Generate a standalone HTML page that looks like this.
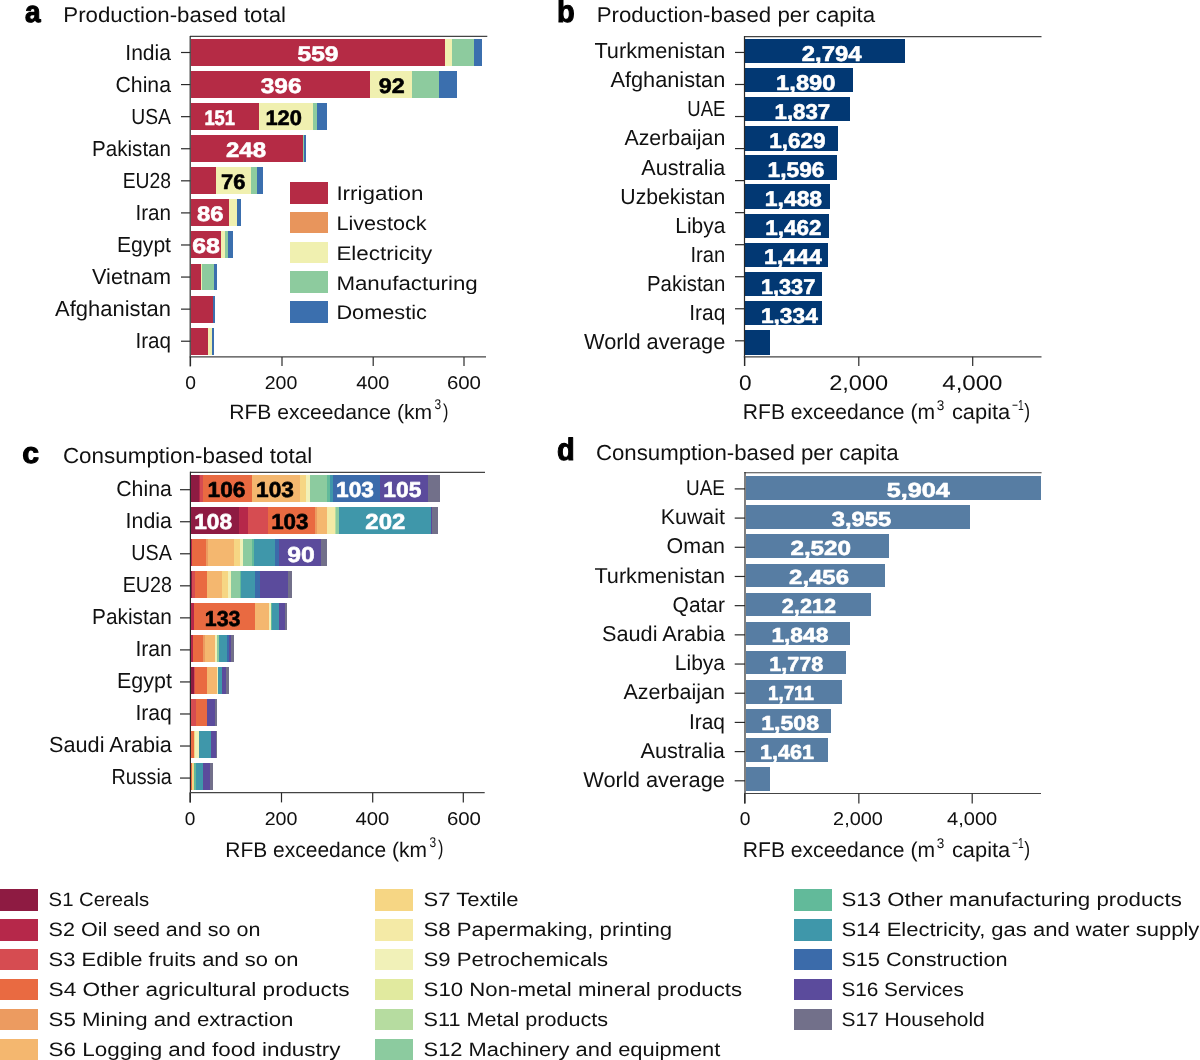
<!DOCTYPE html>
<html><head><meta charset="utf-8"><style>
html,body{margin:0;padding:0;background:#fff;}
body{width:1200px;height:1060px;overflow:hidden;}
svg{display:block;font-family:"Liberation Sans",sans-serif;will-change:transform;}
</style></head><body>
<svg width="1200" height="1060" viewBox="0 0 1200 1060" shape-rendering="crispEdges">
<rect x="0" y="0" width="1200" height="1060" fill="#fff"/>
<g text-rendering="geometricPrecision">
<text x="25.00" y="22.20" font-size="30.11" font-weight="bold" stroke="#000" stroke-width="1.1" stroke-linejoin="round" fill="#000" textLength="15.61" lengthAdjust="spacingAndGlyphs">a</text>
<text x="63.30" y="22.20" font-size="21.37" fill="#111" textLength="222.71" lengthAdjust="spacingAndGlyphs">Production-based total</text>
<rect x="190.90" y="39.00" width="254.10" height="26.90" fill="#B52B45"/>
<rect x="445.00" y="39.00" width="7.00" height="26.90" fill="#F0F0B0"/>
<rect x="452.00" y="39.00" width="22.30" height="26.90" fill="#8DCB9E"/>
<rect x="474.30" y="39.00" width="7.30" height="26.90" fill="#3B6FAE"/>
<line x1="181.00" y1="52.50" x2="190.30" y2="52.50" stroke="#2a2a2a" stroke-width="1.2" shape-rendering="geometricPrecision"/>
<text x="125.30" y="59.50" font-size="21.80" fill="#111" textLength="45.69" lengthAdjust="spacingAndGlyphs">India</text>
<text x="297.50" y="60.95" font-size="21.06" font-weight="bold" stroke="#fff" stroke-width="0.6" stroke-linejoin="round" fill="#fff" textLength="41.01" lengthAdjust="spacingAndGlyphs">559</text>
<rect x="190.90" y="71.08" width="179.40" height="26.90" fill="#B52B45"/>
<rect x="370.30" y="71.08" width="42.10" height="26.90" fill="#F0F0B0"/>
<rect x="412.40" y="71.08" width="26.60" height="26.90" fill="#8DCB9E"/>
<rect x="439.00" y="71.08" width="18.00" height="26.90" fill="#3B6FAE"/>
<line x1="181.00" y1="84.58" x2="190.30" y2="84.58" stroke="#2a2a2a" stroke-width="1.2" shape-rendering="geometricPrecision"/>
<text x="115.50" y="91.58" font-size="21.80" fill="#111" textLength="55.47" lengthAdjust="spacingAndGlyphs">China</text>
<text x="260.70" y="93.03" font-size="21.06" font-weight="bold" stroke="#fff" stroke-width="0.6" stroke-linejoin="round" fill="#fff" textLength="40.81" lengthAdjust="spacingAndGlyphs">396</text>
<text x="378.80" y="93.03" font-size="21.06" font-weight="bold" stroke="#000" stroke-width="0.6" stroke-linejoin="round" fill="#000" textLength="25.91" lengthAdjust="spacingAndGlyphs">92</text>
<rect x="190.90" y="103.16" width="67.60" height="26.90" fill="#B52B45"/>
<rect x="258.50" y="103.16" width="54.50" height="26.90" fill="#F0F0B0"/>
<rect x="313.00" y="103.16" width="4.00" height="26.90" fill="#8DCB9E"/>
<rect x="317.00" y="103.16" width="10.00" height="26.90" fill="#3B6FAE"/>
<line x1="181.00" y1="116.66" x2="190.30" y2="116.66" stroke="#2a2a2a" stroke-width="1.2" shape-rendering="geometricPrecision"/>
<text x="131.30" y="123.66" font-size="21.80" fill="#111" textLength="39.70" lengthAdjust="spacingAndGlyphs">USA</text>
<text x="204.40" y="125.11" font-size="21.06" font-weight="bold" stroke="#fff" stroke-width="0.6" stroke-linejoin="round" fill="#fff" textLength="30.61" lengthAdjust="spacingAndGlyphs">151</text>
<text x="265.40" y="125.11" font-size="21.06" font-weight="bold" stroke="#000" stroke-width="0.6" stroke-linejoin="round" fill="#000" textLength="36.51" lengthAdjust="spacingAndGlyphs">120</text>
<rect x="190.90" y="135.24" width="112.10" height="26.90" fill="#B52B45"/>
<rect x="303.00" y="135.24" width="0.80" height="26.90" fill="#8DCB9E"/>
<rect x="303.80" y="135.24" width="2.10" height="26.90" fill="#3B6FAE"/>
<line x1="181.00" y1="148.74" x2="190.30" y2="148.74" stroke="#2a2a2a" stroke-width="1.2" shape-rendering="geometricPrecision"/>
<text x="92.10" y="155.74" font-size="21.80" fill="#111" textLength="78.91" lengthAdjust="spacingAndGlyphs">Pakistan</text>
<text x="226.00" y="157.19" font-size="21.06" font-weight="bold" stroke="#fff" stroke-width="0.6" stroke-linejoin="round" fill="#fff" textLength="40.01" lengthAdjust="spacingAndGlyphs">248</text>
<rect x="190.90" y="167.32" width="25.35" height="26.90" fill="#B52B45"/>
<rect x="216.25" y="167.32" width="34.75" height="26.90" fill="#F0F0B0"/>
<rect x="251.00" y="167.32" width="6.00" height="26.90" fill="#8DCB9E"/>
<rect x="257.00" y="167.32" width="5.90" height="26.90" fill="#3B6FAE"/>
<line x1="181.00" y1="180.82" x2="190.30" y2="180.82" stroke="#2a2a2a" stroke-width="1.2" shape-rendering="geometricPrecision"/>
<text x="122.70" y="187.82" font-size="21.80" fill="#111" textLength="48.31" lengthAdjust="spacingAndGlyphs">EU28</text>
<text x="221.00" y="189.27" font-size="21.06" font-weight="bold" stroke="#000" stroke-width="0.6" stroke-linejoin="round" fill="#000" textLength="24.41" lengthAdjust="spacingAndGlyphs">76</text>
<rect x="190.90" y="199.40" width="38.20" height="26.90" fill="#B52B45"/>
<rect x="229.10" y="199.40" width="7.90" height="26.90" fill="#F0F0B0"/>
<rect x="237.00" y="199.40" width="3.75" height="26.90" fill="#3B6FAE"/>
<line x1="181.00" y1="212.90" x2="190.30" y2="212.90" stroke="#2a2a2a" stroke-width="1.2" shape-rendering="geometricPrecision"/>
<text x="135.40" y="219.90" font-size="21.80" fill="#111" textLength="35.60" lengthAdjust="spacingAndGlyphs">Iran</text>
<text x="197.00" y="221.35" font-size="21.06" font-weight="bold" stroke="#fff" stroke-width="0.6" stroke-linejoin="round" fill="#fff" textLength="26.51" lengthAdjust="spacingAndGlyphs">86</text>
<rect x="190.90" y="231.48" width="30.10" height="26.90" fill="#B52B45"/>
<rect x="221.00" y="231.48" width="4.00" height="26.90" fill="#F0F0B0"/>
<rect x="225.00" y="231.48" width="3.25" height="26.90" fill="#8DCB9E"/>
<rect x="228.25" y="231.48" width="4.65" height="26.90" fill="#3B6FAE"/>
<line x1="181.00" y1="244.98" x2="190.30" y2="244.98" stroke="#2a2a2a" stroke-width="1.2" shape-rendering="geometricPrecision"/>
<text x="117.00" y="251.98" font-size="21.80" fill="#111" textLength="54.00" lengthAdjust="spacingAndGlyphs">Egypt</text>
<text x="192.25" y="253.43" font-size="21.06" font-weight="bold" stroke="#fff" stroke-width="0.6" stroke-linejoin="round" fill="#fff" textLength="27.76" lengthAdjust="spacingAndGlyphs">68</text>
<rect x="190.90" y="263.56" width="10.10" height="26.90" fill="#B52B45"/>
<rect x="201.00" y="263.56" width="1.10" height="26.90" fill="#F0F0B0"/>
<rect x="202.10" y="263.56" width="11.90" height="26.90" fill="#8DCB9E"/>
<rect x="214.00" y="263.56" width="2.90" height="26.90" fill="#3B6FAE"/>
<line x1="181.00" y1="277.06" x2="190.30" y2="277.06" stroke="#2a2a2a" stroke-width="1.2" shape-rendering="geometricPrecision"/>
<text x="92.10" y="284.06" font-size="21.80" fill="#111" textLength="78.91" lengthAdjust="spacingAndGlyphs">Vietnam</text>
<rect x="190.90" y="295.64" width="22.30" height="26.90" fill="#B52B45"/>
<rect x="213.20" y="295.64" width="1.50" height="26.90" fill="#3B6FAE"/>
<line x1="181.00" y1="309.14" x2="190.30" y2="309.14" stroke="#2a2a2a" stroke-width="1.2" shape-rendering="geometricPrecision"/>
<text x="55.10" y="316.14" font-size="21.80" fill="#111" textLength="115.89" lengthAdjust="spacingAndGlyphs">Afghanistan</text>
<rect x="190.90" y="327.72" width="17.10" height="26.90" fill="#B52B45"/>
<rect x="208.00" y="327.72" width="4.00" height="26.90" fill="#F0F0B0"/>
<rect x="212.00" y="327.72" width="2.20" height="26.90" fill="#3B6FAE"/>
<line x1="181.00" y1="341.22" x2="190.30" y2="341.22" stroke="#2a2a2a" stroke-width="1.2" shape-rendering="geometricPrecision"/>
<text x="135.40" y="348.22" font-size="21.80" fill="#111" textLength="35.60" lengthAdjust="spacingAndGlyphs">Iraq</text>
<line x1="190.00" y1="36.40" x2="487.30" y2="36.40" stroke="#444" stroke-width="1.1" shape-rendering="geometricPrecision"/>
<line x1="190.20" y1="36.00" x2="190.20" y2="366.50" stroke="#2a2a2a" stroke-width="1.2" shape-rendering="geometricPrecision"/>
<line x1="189.60" y1="356.85" x2="486.00" y2="356.85" stroke="#444" stroke-width="1.2" shape-rendering="geometricPrecision"/>
<line x1="190.50" y1="357.00" x2="190.50" y2="366.00" stroke="#2a2a2a" stroke-width="1.2" shape-rendering="geometricPrecision"/>
<line x1="282.00" y1="357.00" x2="282.00" y2="366.00" stroke="#2a2a2a" stroke-width="1.2" shape-rendering="geometricPrecision"/>
<line x1="373.20" y1="357.00" x2="373.20" y2="366.00" stroke="#2a2a2a" stroke-width="1.2" shape-rendering="geometricPrecision"/>
<line x1="464.00" y1="357.00" x2="464.00" y2="366.00" stroke="#2a2a2a" stroke-width="1.2" shape-rendering="geometricPrecision"/>
<text x="185.30" y="389.00" font-size="18.48" fill="#111" textLength="10.70" lengthAdjust="spacingAndGlyphs">0</text>
<text x="264.70" y="389.00" font-size="18.48" fill="#111" textLength="32.61" lengthAdjust="spacingAndGlyphs">200</text>
<text x="356.25" y="389.00" font-size="18.48" fill="#111" textLength="33.16" lengthAdjust="spacingAndGlyphs">400</text>
<text x="446.90" y="389.00" font-size="18.48" fill="#111" textLength="34.11" lengthAdjust="spacingAndGlyphs">600</text>
<text x="229.20" y="418.75" font-size="20.64" fill="#111" textLength="202.90" lengthAdjust="spacingAndGlyphs">RFB exceedance (km</text>
<text x="434.60" y="409.46" font-size="14.12" fill="#111" textLength="6.65" lengthAdjust="spacingAndGlyphs">3</text>
<text x="442.90" y="417.52" font-size="20.17" fill="#111" textLength="5.40" lengthAdjust="spacingAndGlyphs">)</text>
<rect x="289.80" y="182.00" width="38.00" height="21.50" fill="#B52B45"/>
<text x="336.40" y="200.00" font-size="19.77" fill="#111" textLength="87.09" lengthAdjust="spacingAndGlyphs">Irrigation</text>
<rect x="289.80" y="211.80" width="38.00" height="21.50" fill="#E8955C"/>
<text x="336.40" y="229.85" font-size="19.77" fill="#111" textLength="90.27" lengthAdjust="spacingAndGlyphs">Livestock</text>
<rect x="289.80" y="241.60" width="38.00" height="21.50" fill="#F0F0B0"/>
<text x="336.40" y="259.70" font-size="19.77" fill="#111" textLength="95.91" lengthAdjust="spacingAndGlyphs">Electricity</text>
<rect x="289.80" y="271.40" width="38.00" height="21.50" fill="#8DCB9E"/>
<text x="336.40" y="289.55" font-size="19.77" fill="#111" textLength="141.35" lengthAdjust="spacingAndGlyphs">Manufacturing</text>
<rect x="289.80" y="301.20" width="38.00" height="21.50" fill="#3B6FAE"/>
<text x="336.40" y="319.40" font-size="19.77" fill="#111" textLength="90.59" lengthAdjust="spacingAndGlyphs">Domestic</text>
<text x="557.00" y="22.00" font-size="31.03" font-weight="bold" stroke="#000" stroke-width="1.1" stroke-linejoin="round" fill="#000" textLength="17.70" lengthAdjust="spacingAndGlyphs">b</text>
<text x="596.70" y="22.10" font-size="21.37" fill="#111" textLength="278.48" lengthAdjust="spacingAndGlyphs">Production-based per capita</text>
<rect x="745.20" y="38.80" width="159.60" height="24.40" fill="#023873"/>
<text x="594.40" y="58.00" font-size="21.80" fill="#111" textLength="130.89" lengthAdjust="spacingAndGlyphs">Turkmenistan</text>
<text x="801.80" y="60.50" font-size="21.35" font-weight="bold" stroke="#fff" stroke-width="0.6" stroke-linejoin="round" fill="#fff" textLength="59.66" lengthAdjust="spacingAndGlyphs">2,794</text>
<rect x="745.20" y="67.93" width="107.90" height="24.40" fill="#023873"/>
<text x="610.40" y="87.13" font-size="21.80" fill="#111" textLength="114.89" lengthAdjust="spacingAndGlyphs">Afghanistan</text>
<text x="776.10" y="89.63" font-size="21.35" font-weight="bold" stroke="#fff" stroke-width="0.6" stroke-linejoin="round" fill="#fff" textLength="59.41" lengthAdjust="spacingAndGlyphs">1,890</text>
<rect x="745.20" y="97.06" width="105.20" height="24.40" fill="#023873"/>
<text x="687.30" y="116.26" font-size="21.80" fill="#111" textLength="38.00" lengthAdjust="spacingAndGlyphs">UAE</text>
<text x="774.50" y="118.76" font-size="21.35" font-weight="bold" stroke="#fff" stroke-width="0.6" stroke-linejoin="round" fill="#fff" textLength="55.71" lengthAdjust="spacingAndGlyphs">1,837</text>
<rect x="745.20" y="126.19" width="93.00" height="24.40" fill="#023873"/>
<text x="624.40" y="145.39" font-size="21.80" fill="#111" textLength="100.90" lengthAdjust="spacingAndGlyphs">Azerbaijan</text>
<text x="769.20" y="147.89" font-size="21.35" font-weight="bold" stroke="#fff" stroke-width="0.6" stroke-linejoin="round" fill="#fff" textLength="56.31" lengthAdjust="spacingAndGlyphs">1,629</text>
<rect x="745.20" y="155.32" width="91.40" height="24.40" fill="#023873"/>
<text x="641.30" y="174.52" font-size="21.80" fill="#111" textLength="83.97" lengthAdjust="spacingAndGlyphs">Australia</text>
<text x="767.60" y="177.02" font-size="21.35" font-weight="bold" stroke="#fff" stroke-width="0.6" stroke-linejoin="round" fill="#fff" textLength="56.91" lengthAdjust="spacingAndGlyphs">1,596</text>
<rect x="745.20" y="184.45" width="85.10" height="24.40" fill="#023873"/>
<text x="620.30" y="203.65" font-size="21.80" fill="#111" textLength="105.00" lengthAdjust="spacingAndGlyphs">Uzbekistan</text>
<text x="764.80" y="206.15" font-size="21.35" font-weight="bold" stroke="#fff" stroke-width="0.6" stroke-linejoin="round" fill="#fff" textLength="57.31" lengthAdjust="spacingAndGlyphs">1,488</text>
<rect x="745.20" y="213.58" width="83.70" height="24.40" fill="#023873"/>
<text x="675.30" y="232.78" font-size="21.80" fill="#111" textLength="49.99" lengthAdjust="spacingAndGlyphs">Libya</text>
<text x="765.20" y="235.28" font-size="21.35" font-weight="bold" stroke="#fff" stroke-width="0.6" stroke-linejoin="round" fill="#fff" textLength="56.21" lengthAdjust="spacingAndGlyphs">1,462</text>
<rect x="745.20" y="242.71" width="82.50" height="24.40" fill="#023873"/>
<text x="690.50" y="261.91" font-size="21.80" fill="#111" textLength="34.80" lengthAdjust="spacingAndGlyphs">Iran</text>
<text x="764.10" y="264.41" font-size="21.35" font-weight="bold" stroke="#fff" stroke-width="0.6" stroke-linejoin="round" fill="#fff" textLength="57.71" lengthAdjust="spacingAndGlyphs">1,444</text>
<rect x="745.20" y="271.84" width="76.60" height="24.40" fill="#023873"/>
<text x="647.00" y="291.04" font-size="21.80" fill="#111" textLength="78.31" lengthAdjust="spacingAndGlyphs">Pakistan</text>
<text x="760.90" y="293.54" font-size="21.35" font-weight="bold" stroke="#fff" stroke-width="0.6" stroke-linejoin="round" fill="#fff" textLength="54.41" lengthAdjust="spacingAndGlyphs">1,337</text>
<rect x="745.20" y="300.97" width="76.60" height="24.40" fill="#023873"/>
<text x="689.30" y="320.17" font-size="21.80" fill="#111" textLength="36.00" lengthAdjust="spacingAndGlyphs">Iraq</text>
<text x="760.90" y="322.67" font-size="21.35" font-weight="bold" stroke="#fff" stroke-width="0.6" stroke-linejoin="round" fill="#fff" textLength="56.91" lengthAdjust="spacingAndGlyphs">1,334</text>
<rect x="745.20" y="330.10" width="24.90" height="24.40" fill="#023873"/>
<text x="584.10" y="349.30" font-size="21.80" fill="#111" textLength="141.20" lengthAdjust="spacingAndGlyphs">World average</text>
<line x1="735.00" y1="52.45" x2="744.50" y2="52.45" stroke="#2a2a2a" stroke-width="1.2" shape-rendering="geometricPrecision"/>
<line x1="735.00" y1="84.49" x2="744.50" y2="84.49" stroke="#2a2a2a" stroke-width="1.2" shape-rendering="geometricPrecision"/>
<line x1="735.00" y1="116.53" x2="744.50" y2="116.53" stroke="#2a2a2a" stroke-width="1.2" shape-rendering="geometricPrecision"/>
<line x1="735.00" y1="148.57" x2="744.50" y2="148.57" stroke="#2a2a2a" stroke-width="1.2" shape-rendering="geometricPrecision"/>
<line x1="735.00" y1="180.61" x2="744.50" y2="180.61" stroke="#2a2a2a" stroke-width="1.2" shape-rendering="geometricPrecision"/>
<line x1="735.00" y1="212.65" x2="744.50" y2="212.65" stroke="#2a2a2a" stroke-width="1.2" shape-rendering="geometricPrecision"/>
<line x1="735.00" y1="244.69" x2="744.50" y2="244.69" stroke="#2a2a2a" stroke-width="1.2" shape-rendering="geometricPrecision"/>
<line x1="735.00" y1="276.73" x2="744.50" y2="276.73" stroke="#2a2a2a" stroke-width="1.2" shape-rendering="geometricPrecision"/>
<line x1="735.00" y1="308.77" x2="744.50" y2="308.77" stroke="#2a2a2a" stroke-width="1.2" shape-rendering="geometricPrecision"/>
<line x1="735.00" y1="340.81" x2="744.50" y2="340.81" stroke="#2a2a2a" stroke-width="1.2" shape-rendering="geometricPrecision"/>
<line x1="744.00" y1="36.60" x2="1041.50" y2="36.60" stroke="#444" stroke-width="1.1" shape-rendering="geometricPrecision"/>
<line x1="744.50" y1="36.00" x2="744.50" y2="366.00" stroke="#2a2a2a" stroke-width="1.2" shape-rendering="geometricPrecision"/>
<line x1="743.80" y1="356.80" x2="1041.50" y2="356.80" stroke="#444" stroke-width="1.2" shape-rendering="geometricPrecision"/>
<line x1="744.70" y1="356.80" x2="744.70" y2="366.00" stroke="#2a2a2a" stroke-width="1.2" shape-rendering="geometricPrecision"/>
<line x1="858.80" y1="356.80" x2="858.80" y2="366.00" stroke="#2a2a2a" stroke-width="1.2" shape-rendering="geometricPrecision"/>
<line x1="972.70" y1="356.80" x2="972.70" y2="366.00" stroke="#2a2a2a" stroke-width="1.2" shape-rendering="geometricPrecision"/>
<text x="738.90" y="390.20" font-size="21.06" fill="#111" textLength="12.60" lengthAdjust="spacingAndGlyphs">0</text>
<text x="829.20" y="390.20" font-size="21.06" fill="#111" textLength="59.01" lengthAdjust="spacingAndGlyphs">2,000</text>
<text x="942.30" y="390.20" font-size="21.06" fill="#111" textLength="60.21" lengthAdjust="spacingAndGlyphs">4,000</text>
<text x="742.80" y="418.60" font-size="21.37" fill="#111" textLength="192.20" lengthAdjust="spacingAndGlyphs">RFB exceedance (m</text>
<text x="936.75" y="410.06" font-size="14.05" fill="#111" textLength="7.55" lengthAdjust="spacingAndGlyphs">3</text>
<text x="951.90" y="418.60" font-size="21.37" fill="#111" textLength="58.34" lengthAdjust="spacingAndGlyphs">capita</text>
<text x="1012.00" y="409.60" font-size="14.39" fill="#111" textLength="11.70" lengthAdjust="spacingAndGlyphs">−1</text>
<text x="1024.25" y="417.54" font-size="20.60" fill="#111" textLength="5.85" lengthAdjust="spacingAndGlyphs">)</text>
<text x="22.20" y="463.10" font-size="29.55" font-weight="bold" stroke="#000" stroke-width="1.1" stroke-linejoin="round" fill="#000" textLength="16.80" lengthAdjust="spacingAndGlyphs">c</text>
<text x="62.90" y="462.80" font-size="21.80" fill="#111" textLength="249.29" lengthAdjust="spacingAndGlyphs">Consumption-based total</text>
<rect x="190.90" y="475.00" width="8.50" height="26.70" fill="#8E1B42"/>
<rect x="199.40" y="475.00" width="0.80" height="26.70" fill="#B6284A"/>
<rect x="200.20" y="475.00" width="2.70" height="26.70" fill="#D64C51"/>
<rect x="202.90" y="475.00" width="49.40" height="26.70" fill="#E96A41"/>
<rect x="252.30" y="475.00" width="47.45" height="26.70" fill="#F4B76F"/>
<rect x="299.75" y="475.00" width="6.25" height="26.70" fill="#F6D684"/>
<rect x="306.00" y="475.00" width="4.00" height="26.70" fill="#F1F1B8"/>
<rect x="310.00" y="475.00" width="17.00" height="26.70" fill="#8CCB9F"/>
<rect x="327.00" y="475.00" width="2.70" height="26.70" fill="#62BA9A"/>
<rect x="329.70" y="475.00" width="3.30" height="26.70" fill="#3F97AA"/>
<rect x="333.00" y="475.00" width="47.30" height="26.70" fill="#3B6BAA"/>
<rect x="380.30" y="475.00" width="47.70" height="26.70" fill="#5B4B9C"/>
<rect x="428.00" y="475.00" width="12.00" height="26.70" fill="#72708A"/>
<line x1="180.00" y1="489.70" x2="190.40" y2="489.70" stroke="#2a2a2a" stroke-width="1.2" shape-rendering="geometricPrecision"/>
<text x="116.25" y="496.10" font-size="21.80" fill="#111" textLength="55.62" lengthAdjust="spacingAndGlyphs">China</text>
<text x="207.60" y="497.45" font-size="21.63" font-weight="bold" stroke="#000" stroke-width="0.6" stroke-linejoin="round" fill="#000" textLength="37.91" lengthAdjust="spacingAndGlyphs">106</text>
<text x="256.00" y="497.45" font-size="21.63" font-weight="bold" stroke="#000" stroke-width="0.6" stroke-linejoin="round" fill="#000" textLength="37.91" lengthAdjust="spacingAndGlyphs">103</text>
<text x="336.00" y="497.45" font-size="21.63" font-weight="bold" stroke="#fff" stroke-width="0.6" stroke-linejoin="round" fill="#fff" textLength="38.01" lengthAdjust="spacingAndGlyphs">103</text>
<text x="383.30" y="497.45" font-size="21.63" font-weight="bold" stroke="#fff" stroke-width="0.6" stroke-linejoin="round" fill="#fff" textLength="38.01" lengthAdjust="spacingAndGlyphs">105</text>
<rect x="190.90" y="507.04" width="48.20" height="26.70" fill="#8E1B42"/>
<rect x="239.10" y="507.04" width="9.30" height="26.70" fill="#B6284A"/>
<rect x="248.40" y="507.04" width="19.50" height="26.70" fill="#D64C51"/>
<rect x="267.90" y="507.04" width="47.10" height="26.70" fill="#E96A41"/>
<rect x="315.00" y="507.04" width="2.30" height="26.70" fill="#EC9B60"/>
<rect x="317.30" y="507.04" width="10.00" height="26.70" fill="#F4B76F"/>
<rect x="327.30" y="507.04" width="7.40" height="26.70" fill="#F4EAA6"/>
<rect x="334.70" y="507.04" width="1.30" height="26.70" fill="#B6DCA0"/>
<rect x="336.00" y="507.04" width="2.70" height="26.70" fill="#8CCB9F"/>
<rect x="338.70" y="507.04" width="92.30" height="26.70" fill="#3F97AA"/>
<rect x="431.00" y="507.04" width="1.00" height="26.70" fill="#5B4B9C"/>
<rect x="432.00" y="507.04" width="6.00" height="26.70" fill="#72708A"/>
<line x1="180.00" y1="521.74" x2="190.40" y2="521.74" stroke="#2a2a2a" stroke-width="1.2" shape-rendering="geometricPrecision"/>
<text x="125.60" y="528.14" font-size="21.80" fill="#111" textLength="46.29" lengthAdjust="spacingAndGlyphs">India</text>
<text x="194.20" y="529.49" font-size="21.63" font-weight="bold" stroke="#fff" stroke-width="0.6" stroke-linejoin="round" fill="#fff" textLength="37.91" lengthAdjust="spacingAndGlyphs">108</text>
<text x="271.20" y="529.49" font-size="21.63" font-weight="bold" stroke="#000" stroke-width="0.6" stroke-linejoin="round" fill="#000" textLength="37.31" lengthAdjust="spacingAndGlyphs">103</text>
<text x="365.30" y="529.49" font-size="21.63" font-weight="bold" stroke="#fff" stroke-width="0.6" stroke-linejoin="round" fill="#fff" textLength="40.01" lengthAdjust="spacingAndGlyphs">202</text>
<rect x="190.90" y="539.08" width="1.35" height="26.70" fill="#B6284A"/>
<rect x="192.25" y="539.08" width="14.00" height="26.70" fill="#E96A41"/>
<rect x="206.25" y="539.08" width="1.25" height="26.70" fill="#EC9B60"/>
<rect x="207.50" y="539.08" width="26.00" height="26.70" fill="#F4B76F"/>
<rect x="233.50" y="539.08" width="6.25" height="26.70" fill="#F6D684"/>
<rect x="239.75" y="539.08" width="3.15" height="26.70" fill="#F1F1B8"/>
<rect x="242.90" y="539.08" width="9.10" height="26.70" fill="#8CCB9F"/>
<rect x="252.00" y="539.08" width="1.90" height="26.70" fill="#62BA9A"/>
<rect x="253.90" y="539.08" width="21.10" height="26.70" fill="#3F97AA"/>
<rect x="275.00" y="539.08" width="4.10" height="26.70" fill="#3B6BAA"/>
<rect x="279.10" y="539.08" width="41.65" height="26.70" fill="#5B4B9C"/>
<rect x="320.75" y="539.08" width="6.50" height="26.70" fill="#72708A"/>
<line x1="180.00" y1="553.78" x2="190.40" y2="553.78" stroke="#2a2a2a" stroke-width="1.2" shape-rendering="geometricPrecision"/>
<text x="131.30" y="560.18" font-size="21.80" fill="#111" textLength="40.60" lengthAdjust="spacingAndGlyphs">USA</text>
<text x="287.25" y="561.53" font-size="21.63" font-weight="bold" stroke="#fff" stroke-width="0.6" stroke-linejoin="round" fill="#fff" textLength="27.51" lengthAdjust="spacingAndGlyphs">90</text>
<rect x="190.90" y="571.12" width="0.70" height="26.70" fill="#8E1B42"/>
<rect x="191.60" y="571.12" width="3.15" height="26.70" fill="#D64C51"/>
<rect x="194.75" y="571.12" width="12.25" height="26.70" fill="#E96A41"/>
<rect x="207.00" y="571.12" width="15.00" height="26.70" fill="#F4B76F"/>
<rect x="222.00" y="571.12" width="5.90" height="26.70" fill="#F6D684"/>
<rect x="227.90" y="571.12" width="3.35" height="26.70" fill="#F1F1B8"/>
<rect x="231.25" y="571.12" width="8.25" height="26.70" fill="#8CCB9F"/>
<rect x="239.50" y="571.12" width="1.50" height="26.70" fill="#62BA9A"/>
<rect x="241.00" y="571.12" width="13.50" height="26.70" fill="#3F97AA"/>
<rect x="254.50" y="571.12" width="5.00" height="26.70" fill="#3B6BAA"/>
<rect x="259.50" y="571.12" width="28.00" height="26.70" fill="#5B4B9C"/>
<rect x="287.50" y="571.12" width="4.50" height="26.70" fill="#72708A"/>
<line x1="180.00" y1="585.82" x2="190.40" y2="585.82" stroke="#2a2a2a" stroke-width="1.2" shape-rendering="geometricPrecision"/>
<text x="122.70" y="592.22" font-size="21.80" fill="#111" textLength="49.21" lengthAdjust="spacingAndGlyphs">EU28</text>
<rect x="190.90" y="603.16" width="2.60" height="26.70" fill="#B6284A"/>
<rect x="193.50" y="603.16" width="61.00" height="26.70" fill="#E96A41"/>
<rect x="254.50" y="603.16" width="14.60" height="26.70" fill="#F4B76F"/>
<rect x="269.10" y="603.16" width="1.90" height="26.70" fill="#F1F1B8"/>
<rect x="271.00" y="603.16" width="1.25" height="26.70" fill="#62BA9A"/>
<rect x="272.25" y="603.16" width="6.85" height="26.70" fill="#3F97AA"/>
<rect x="279.10" y="603.16" width="6.30" height="26.70" fill="#5B4B9C"/>
<rect x="285.40" y="603.16" width="1.60" height="26.70" fill="#72708A"/>
<line x1="180.00" y1="617.86" x2="190.40" y2="617.86" stroke="#2a2a2a" stroke-width="1.2" shape-rendering="geometricPrecision"/>
<text x="92.10" y="624.26" font-size="21.80" fill="#111" textLength="79.81" lengthAdjust="spacingAndGlyphs">Pakistan</text>
<text x="204.75" y="625.61" font-size="21.63" font-weight="bold" stroke="#000" stroke-width="0.6" stroke-linejoin="round" fill="#000" textLength="35.66" lengthAdjust="spacingAndGlyphs">133</text>
<rect x="190.90" y="635.20" width="2.20" height="26.70" fill="#B6284A"/>
<rect x="193.10" y="635.20" width="9.90" height="26.70" fill="#E96A41"/>
<rect x="203.00" y="635.20" width="1.90" height="26.70" fill="#EC9B60"/>
<rect x="204.90" y="635.20" width="10.10" height="26.70" fill="#F4B76F"/>
<rect x="215.00" y="635.20" width="1.90" height="26.70" fill="#F1F1B8"/>
<rect x="216.90" y="635.20" width="2.10" height="26.70" fill="#8CCB9F"/>
<rect x="219.00" y="635.20" width="8.00" height="26.70" fill="#3F97AA"/>
<rect x="227.00" y="635.20" width="2.20" height="26.70" fill="#3B6BAA"/>
<rect x="229.20" y="635.20" width="1.90" height="26.70" fill="#5B4B9C"/>
<rect x="231.10" y="635.20" width="2.50" height="26.70" fill="#72708A"/>
<line x1="180.00" y1="649.90" x2="190.40" y2="649.90" stroke="#2a2a2a" stroke-width="1.2" shape-rendering="geometricPrecision"/>
<text x="135.40" y="656.30" font-size="21.80" fill="#111" textLength="36.50" lengthAdjust="spacingAndGlyphs">Iran</text>
<rect x="190.90" y="667.24" width="2.60" height="26.70" fill="#8E1B42"/>
<rect x="193.50" y="667.24" width="1.50" height="26.70" fill="#D64C51"/>
<rect x="195.00" y="667.24" width="11.60" height="26.70" fill="#E96A41"/>
<rect x="206.60" y="667.24" width="10.80" height="26.70" fill="#F4B76F"/>
<rect x="217.40" y="667.24" width="0.90" height="26.70" fill="#F1F1B8"/>
<rect x="218.30" y="667.24" width="3.40" height="26.70" fill="#3F97AA"/>
<rect x="221.70" y="667.24" width="4.40" height="26.70" fill="#5B4B9C"/>
<rect x="226.10" y="667.24" width="3.10" height="26.70" fill="#72708A"/>
<line x1="180.00" y1="681.94" x2="190.40" y2="681.94" stroke="#2a2a2a" stroke-width="1.2" shape-rendering="geometricPrecision"/>
<text x="117.00" y="688.34" font-size="21.80" fill="#111" textLength="54.90" lengthAdjust="spacingAndGlyphs">Egypt</text>
<rect x="190.90" y="699.28" width="5.00" height="26.70" fill="#D64C51"/>
<rect x="195.90" y="699.28" width="11.00" height="26.70" fill="#E96A41"/>
<rect x="206.90" y="699.28" width="8.30" height="26.70" fill="#5B4B9C"/>
<rect x="215.20" y="699.28" width="1.70" height="26.70" fill="#72708A"/>
<line x1="180.00" y1="713.98" x2="190.40" y2="713.98" stroke="#2a2a2a" stroke-width="1.2" shape-rendering="geometricPrecision"/>
<text x="135.40" y="720.38" font-size="21.80" fill="#111" textLength="36.50" lengthAdjust="spacingAndGlyphs">Iraq</text>
<rect x="190.90" y="731.32" width="0.00" height="26.70" fill="#8E1B42"/>
<rect x="190.90" y="731.32" width="3.00" height="26.70" fill="#E96A41"/>
<rect x="193.90" y="731.32" width="0.80" height="26.70" fill="#F6D684"/>
<rect x="194.70" y="731.32" width="4.70" height="26.70" fill="#F1F1B8"/>
<rect x="199.40" y="731.32" width="11.90" height="26.70" fill="#3F97AA"/>
<rect x="211.30" y="731.32" width="4.50" height="26.70" fill="#5B4B9C"/>
<rect x="215.80" y="731.32" width="1.00" height="26.70" fill="#72708A"/>
<line x1="180.00" y1="746.02" x2="190.40" y2="746.02" stroke="#2a2a2a" stroke-width="1.2" shape-rendering="geometricPrecision"/>
<text x="49.10" y="752.42" font-size="21.80" fill="#111" textLength="122.78" lengthAdjust="spacingAndGlyphs">Saudi Arabia</text>
<rect x="190.90" y="763.36" width="1.10" height="26.70" fill="#E96A41"/>
<rect x="192.00" y="763.36" width="1.90" height="26.70" fill="#F6D684"/>
<rect x="193.90" y="763.36" width="1.90" height="26.70" fill="#62BA9A"/>
<rect x="195.80" y="763.36" width="6.80" height="26.70" fill="#3F97AA"/>
<rect x="202.60" y="763.36" width="7.55" height="26.70" fill="#5B4B9C"/>
<rect x="210.15" y="763.36" width="2.65" height="26.70" fill="#72708A"/>
<line x1="180.00" y1="778.06" x2="190.40" y2="778.06" stroke="#2a2a2a" stroke-width="1.2" shape-rendering="geometricPrecision"/>
<text x="111.40" y="784.46" font-size="21.80" fill="#111" textLength="60.47" lengthAdjust="spacingAndGlyphs">Russia</text>
<line x1="190.00" y1="472.40" x2="485.00" y2="472.40" stroke="#444" stroke-width="1.1" shape-rendering="geometricPrecision"/>
<line x1="190.40" y1="471.80" x2="190.40" y2="802.40" stroke="#2a2a2a" stroke-width="1.2" shape-rendering="geometricPrecision"/>
<line x1="189.70" y1="792.70" x2="484.70" y2="792.70" stroke="#444" stroke-width="1.2" shape-rendering="geometricPrecision"/>
<line x1="190.00" y1="792.70" x2="190.00" y2="802.40" stroke="#2a2a2a" stroke-width="1.2" shape-rendering="geometricPrecision"/>
<line x1="281.50" y1="792.70" x2="281.50" y2="802.40" stroke="#2a2a2a" stroke-width="1.2" shape-rendering="geometricPrecision"/>
<line x1="372.70" y1="792.70" x2="372.70" y2="802.40" stroke="#2a2a2a" stroke-width="1.2" shape-rendering="geometricPrecision"/>
<line x1="463.30" y1="792.70" x2="463.30" y2="802.40" stroke="#2a2a2a" stroke-width="1.2" shape-rendering="geometricPrecision"/>
<text x="184.70" y="825.00" font-size="18.48" fill="#111" textLength="10.60" lengthAdjust="spacingAndGlyphs">0</text>
<text x="264.70" y="825.00" font-size="18.48" fill="#111" textLength="32.81" lengthAdjust="spacingAndGlyphs">200</text>
<text x="355.60" y="825.00" font-size="18.48" fill="#111" textLength="33.81" lengthAdjust="spacingAndGlyphs">400</text>
<text x="446.90" y="825.00" font-size="18.48" fill="#111" textLength="34.11" lengthAdjust="spacingAndGlyphs">600</text>
<text x="225.30" y="856.60" font-size="21.22" fill="#111" textLength="201.70" lengthAdjust="spacingAndGlyphs">RFB exceedance (km</text>
<text x="429.60" y="847.26" font-size="14.12" fill="#111" textLength="6.65" lengthAdjust="spacingAndGlyphs">3</text>
<text x="437.90" y="855.17" font-size="20.92" fill="#111" textLength="5.40" lengthAdjust="spacingAndGlyphs">)</text>
<text x="557.00" y="460.20" font-size="30.90" font-weight="bold" stroke="#000" stroke-width="1.1" stroke-linejoin="round" fill="#000" textLength="17.70" lengthAdjust="spacingAndGlyphs">d</text>
<text x="595.90" y="460.00" font-size="21.80" fill="#111" textLength="302.68" lengthAdjust="spacingAndGlyphs">Consumption-based per capita</text>
<rect x="745.60" y="476.20" width="295.40" height="23.50" fill="#577DA3"/>
<line x1="734.70" y1="488.90" x2="745.00" y2="488.90" stroke="#2a2a2a" stroke-width="1.2" shape-rendering="geometricPrecision"/>
<text x="686.10" y="495.10" font-size="21.51" fill="#111" textLength="38.90" lengthAdjust="spacingAndGlyphs">UAE</text>
<text x="886.70" y="496.55" font-size="20.34" font-weight="bold" stroke="#fff" stroke-width="0.6" stroke-linejoin="round" fill="#fff" textLength="63.11" lengthAdjust="spacingAndGlyphs">5,904</text>
<rect x="745.60" y="505.32" width="224.40" height="23.50" fill="#577DA3"/>
<line x1="734.70" y1="518.09" x2="745.00" y2="518.09" stroke="#2a2a2a" stroke-width="1.2" shape-rendering="geometricPrecision"/>
<text x="660.70" y="524.29" font-size="21.51" fill="#111" textLength="64.31" lengthAdjust="spacingAndGlyphs">Kuwait</text>
<text x="831.70" y="525.67" font-size="20.34" font-weight="bold" stroke="#fff" stroke-width="0.6" stroke-linejoin="round" fill="#fff" textLength="59.41" lengthAdjust="spacingAndGlyphs">3,955</text>
<rect x="745.60" y="534.44" width="143.60" height="23.50" fill="#577DA3"/>
<line x1="734.70" y1="547.28" x2="745.00" y2="547.28" stroke="#2a2a2a" stroke-width="1.2" shape-rendering="geometricPrecision"/>
<text x="666.60" y="553.48" font-size="21.51" fill="#111" textLength="58.40" lengthAdjust="spacingAndGlyphs">Oman</text>
<text x="790.40" y="554.79" font-size="20.34" font-weight="bold" stroke="#fff" stroke-width="0.6" stroke-linejoin="round" fill="#fff" textLength="60.71" lengthAdjust="spacingAndGlyphs">2,520</text>
<rect x="745.60" y="563.56" width="139.50" height="23.50" fill="#577DA3"/>
<line x1="734.70" y1="576.47" x2="745.00" y2="576.47" stroke="#2a2a2a" stroke-width="1.2" shape-rendering="geometricPrecision"/>
<text x="594.40" y="582.67" font-size="21.51" fill="#111" textLength="130.59" lengthAdjust="spacingAndGlyphs">Turkmenistan</text>
<text x="789.10" y="583.91" font-size="20.34" font-weight="bold" stroke="#fff" stroke-width="0.6" stroke-linejoin="round" fill="#fff" textLength="59.91" lengthAdjust="spacingAndGlyphs">2,456</text>
<rect x="745.60" y="592.68" width="125.40" height="23.50" fill="#577DA3"/>
<line x1="734.70" y1="605.66" x2="745.00" y2="605.66" stroke="#2a2a2a" stroke-width="1.2" shape-rendering="geometricPrecision"/>
<text x="672.60" y="611.86" font-size="21.51" fill="#111" textLength="52.40" lengthAdjust="spacingAndGlyphs">Qatar</text>
<text x="781.80" y="613.03" font-size="20.34" font-weight="bold" stroke="#fff" stroke-width="0.6" stroke-linejoin="round" fill="#fff" textLength="54.31" lengthAdjust="spacingAndGlyphs">2,212</text>
<rect x="745.60" y="621.80" width="104.40" height="23.50" fill="#577DA3"/>
<line x1="734.70" y1="634.85" x2="745.00" y2="634.85" stroke="#2a2a2a" stroke-width="1.2" shape-rendering="geometricPrecision"/>
<text x="602.00" y="641.05" font-size="21.51" fill="#111" textLength="122.98" lengthAdjust="spacingAndGlyphs">Saudi Arabia</text>
<text x="771.40" y="642.15" font-size="20.34" font-weight="bold" stroke="#fff" stroke-width="0.6" stroke-linejoin="round" fill="#fff" textLength="56.91" lengthAdjust="spacingAndGlyphs">1,848</text>
<rect x="745.60" y="650.92" width="100.50" height="23.50" fill="#577DA3"/>
<line x1="734.70" y1="664.04" x2="745.00" y2="664.04" stroke="#2a2a2a" stroke-width="1.2" shape-rendering="geometricPrecision"/>
<text x="674.80" y="670.24" font-size="21.51" fill="#111" textLength="50.19" lengthAdjust="spacingAndGlyphs">Libya</text>
<text x="769.20" y="671.27" font-size="20.34" font-weight="bold" stroke="#fff" stroke-width="0.6" stroke-linejoin="round" fill="#fff" textLength="54.01" lengthAdjust="spacingAndGlyphs">1,778</text>
<rect x="745.60" y="680.04" width="96.30" height="23.50" fill="#577DA3"/>
<line x1="734.70" y1="693.23" x2="745.00" y2="693.23" stroke="#2a2a2a" stroke-width="1.2" shape-rendering="geometricPrecision"/>
<text x="623.40" y="699.43" font-size="21.51" fill="#111" textLength="101.60" lengthAdjust="spacingAndGlyphs">Azerbaijan</text>
<text x="768.00" y="700.39" font-size="20.34" font-weight="bold" stroke="#fff" stroke-width="0.6" stroke-linejoin="round" fill="#fff" textLength="45.91" lengthAdjust="spacingAndGlyphs">1,711</text>
<rect x="745.60" y="709.16" width="85.20" height="23.50" fill="#577DA3"/>
<line x1="734.70" y1="722.42" x2="745.00" y2="722.42" stroke="#2a2a2a" stroke-width="1.2" shape-rendering="geometricPrecision"/>
<text x="688.90" y="728.62" font-size="21.51" fill="#111" textLength="36.10" lengthAdjust="spacingAndGlyphs">Iraq</text>
<text x="761.20" y="729.51" font-size="20.34" font-weight="bold" stroke="#fff" stroke-width="0.6" stroke-linejoin="round" fill="#fff" textLength="57.81" lengthAdjust="spacingAndGlyphs">1,508</text>
<rect x="745.60" y="738.28" width="82.40" height="23.50" fill="#577DA3"/>
<line x1="734.70" y1="751.61" x2="745.00" y2="751.61" stroke="#2a2a2a" stroke-width="1.2" shape-rendering="geometricPrecision"/>
<text x="640.40" y="757.81" font-size="21.51" fill="#111" textLength="84.57" lengthAdjust="spacingAndGlyphs">Australia</text>
<text x="760.00" y="758.63" font-size="20.34" font-weight="bold" stroke="#fff" stroke-width="0.6" stroke-linejoin="round" fill="#fff" textLength="53.91" lengthAdjust="spacingAndGlyphs">1,461</text>
<rect x="745.60" y="767.40" width="24.50" height="23.50" fill="#577DA3"/>
<line x1="734.70" y1="780.80" x2="745.00" y2="780.80" stroke="#2a2a2a" stroke-width="1.2" shape-rendering="geometricPrecision"/>
<text x="583.20" y="787.00" font-size="21.51" fill="#111" textLength="141.80" lengthAdjust="spacingAndGlyphs">World average</text>
<line x1="744.30" y1="472.70" x2="1041.60" y2="472.70" stroke="#444" stroke-width="1.1" shape-rendering="geometricPrecision"/>
<line x1="745.00" y1="472.10" x2="745.00" y2="803.40" stroke="#2a2a2a" stroke-width="1.2" shape-rendering="geometricPrecision"/>
<line x1="744.30" y1="793.50" x2="1041.00" y2="793.50" stroke="#444" stroke-width="1.2" shape-rendering="geometricPrecision"/>
<line x1="744.65" y1="793.50" x2="744.65" y2="803.40" stroke="#2a2a2a" stroke-width="1.2" shape-rendering="geometricPrecision"/>
<line x1="858.85" y1="793.50" x2="858.85" y2="803.40" stroke="#2a2a2a" stroke-width="1.2" shape-rendering="geometricPrecision"/>
<line x1="972.20" y1="793.50" x2="972.20" y2="803.40" stroke="#2a2a2a" stroke-width="1.2" shape-rendering="geometricPrecision"/>
<text x="739.80" y="825.00" font-size="18.48" fill="#111" textLength="10.70" lengthAdjust="spacingAndGlyphs">0</text>
<text x="833.10" y="825.00" font-size="18.48" fill="#111" textLength="49.71" lengthAdjust="spacingAndGlyphs">2,000</text>
<text x="947.00" y="825.00" font-size="18.48" fill="#111" textLength="50.21" lengthAdjust="spacingAndGlyphs">4,000</text>
<text x="742.80" y="856.60" font-size="21.37" fill="#111" textLength="192.20" lengthAdjust="spacingAndGlyphs">RFB exceedance (m</text>
<text x="936.75" y="848.06" font-size="14.05" fill="#111" textLength="7.55" lengthAdjust="spacingAndGlyphs">3</text>
<text x="951.90" y="856.60" font-size="21.37" fill="#111" textLength="58.34" lengthAdjust="spacingAndGlyphs">capita</text>
<text x="1012.00" y="847.60" font-size="14.39" fill="#111" textLength="11.70" lengthAdjust="spacingAndGlyphs">−1</text>
<text x="1024.25" y="855.54" font-size="20.60" fill="#111" textLength="5.85" lengthAdjust="spacingAndGlyphs">)</text>
<rect x="0.00" y="889.00" width="37.50" height="21.60" fill="#8E1B42"/>
<text x="48.60" y="906.00" font-size="19.33" fill="#111" textLength="100.50" lengthAdjust="spacingAndGlyphs">S1 Cereals</text>
<rect x="0.00" y="918.90" width="37.50" height="21.60" fill="#B6284A"/>
<text x="48.60" y="935.90" font-size="19.33" fill="#111" textLength="211.80" lengthAdjust="spacingAndGlyphs">S2 Oil seed and so on</text>
<rect x="0.00" y="948.80" width="37.50" height="21.60" fill="#D64C51"/>
<text x="48.60" y="965.80" font-size="19.33" fill="#111" textLength="249.90" lengthAdjust="spacingAndGlyphs">S3 Edible fruits and so on</text>
<rect x="0.00" y="978.70" width="37.50" height="21.60" fill="#E96A41"/>
<text x="48.60" y="995.70" font-size="19.33" fill="#111" textLength="300.91" lengthAdjust="spacingAndGlyphs">S4 Other agricultural products</text>
<rect x="0.00" y="1008.60" width="37.50" height="21.60" fill="#EC9B60"/>
<text x="48.60" y="1025.60" font-size="19.33" fill="#111" textLength="244.81" lengthAdjust="spacingAndGlyphs">S5 Mining and extraction</text>
<rect x="0.00" y="1038.50" width="37.50" height="21.60" fill="#F4B76F"/>
<text x="48.60" y="1055.50" font-size="19.33" fill="#111" textLength="291.90" lengthAdjust="spacingAndGlyphs">S6 Logging and food industry</text>
<rect x="374.90" y="889.00" width="38.30" height="21.60" fill="#F6D684"/>
<text x="423.60" y="906.00" font-size="19.33" fill="#111" textLength="94.91" lengthAdjust="spacingAndGlyphs">S7 Textile</text>
<rect x="374.90" y="918.90" width="38.30" height="21.60" fill="#F4EAA6"/>
<text x="423.60" y="935.90" font-size="19.33" fill="#111" textLength="248.59" lengthAdjust="spacingAndGlyphs">S8 Papermaking, printing</text>
<rect x="374.90" y="948.80" width="38.30" height="21.60" fill="#F1F1B8"/>
<text x="423.60" y="965.80" font-size="19.33" fill="#111" textLength="184.60" lengthAdjust="spacingAndGlyphs">S9 Petrochemicals</text>
<rect x="374.90" y="978.70" width="38.30" height="21.60" fill="#E1EA9F"/>
<text x="423.60" y="995.70" font-size="19.33" fill="#111" textLength="318.50" lengthAdjust="spacingAndGlyphs">S10 Non-metal mineral products</text>
<rect x="374.90" y="1008.60" width="38.30" height="21.60" fill="#B6DCA0"/>
<text x="423.60" y="1025.60" font-size="19.33" fill="#111" textLength="184.59" lengthAdjust="spacingAndGlyphs">S11 Metal products</text>
<rect x="374.90" y="1038.50" width="38.30" height="21.60" fill="#8CCB9F"/>
<text x="423.60" y="1055.50" font-size="19.33" fill="#111" textLength="296.70" lengthAdjust="spacingAndGlyphs">S12 Machinery and equipment</text>
<rect x="793.60" y="889.00" width="38.00" height="21.60" fill="#62BA9A"/>
<text x="841.40" y="906.00" font-size="19.33" fill="#111" textLength="340.40" lengthAdjust="spacingAndGlyphs">S13 Other manufacturing products</text>
<rect x="793.60" y="918.90" width="38.00" height="21.60" fill="#3F97AA"/>
<text x="841.40" y="935.90" font-size="19.33" fill="#111" textLength="357.90" lengthAdjust="spacingAndGlyphs">S14 Electricity, gas and water supply</text>
<rect x="793.60" y="948.80" width="38.00" height="21.60" fill="#3B6BAA"/>
<text x="841.40" y="965.80" font-size="19.33" fill="#111" textLength="166.10" lengthAdjust="spacingAndGlyphs">S15 Construction</text>
<rect x="793.60" y="978.70" width="38.00" height="21.60" fill="#5B4B9C"/>
<text x="841.40" y="995.70" font-size="19.33" fill="#111" textLength="122.39" lengthAdjust="spacingAndGlyphs">S16 Services</text>
<rect x="793.60" y="1008.60" width="38.00" height="21.60" fill="#72708A"/>
<text x="841.40" y="1025.60" font-size="19.33" fill="#111" textLength="143.41" lengthAdjust="spacingAndGlyphs">S17 Household</text>
</g>
</svg>
</body></html>
